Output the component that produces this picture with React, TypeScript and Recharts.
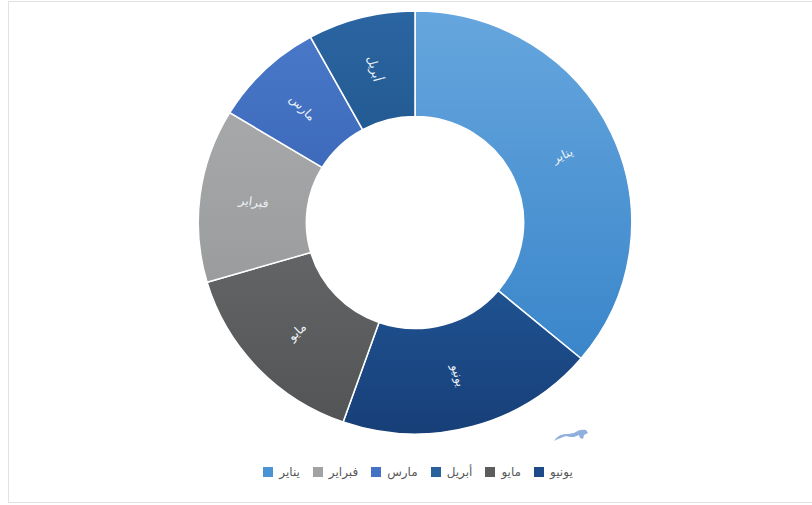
import { PieChart, Pie, Cell, Legend } from "recharts";

// slices in clockwise order, starting at 12 o'clock
const sliceNames = ["يناير", "يونيو", "مايو", "فبراير", "مارس", "أبريل"];
const sliceValues = [36.1, 19.25, 15.05, 13.25, 8.3, 8.0];

// legend order
const legendNames = ["يناير", "فبراير", "مارس", "أبريل", "مايو", "يونيو"];

const GRADS: Record<string, [string, string]> = {
  "يناير": ["#66a6de", "#3a86ca"],
  "يونيو": ["#1f5290", "#173f78"],
  "مايو": ["#626466", "#525456"],
  "فبراير": ["#a6a8a9", "#9a9c9d"],
  "مارس": ["#4a78c8", "#3d6abb"],
  "أبريل": ["#2b65a2", "#235a92"],
};
const SOLID: Record<string, string> = {
  "يناير": "#4a93d4",
  "يونيو": "#1d4a88",
  "مايو": "#5a5c5e",
  "فبراير": "#a0a2a3",
  "مارس": "#4472c4",
  "أبريل": "#27609b",
};

const data = sliceNames.map((name, i) => ({ name, value: sliceValues[i] }));
const RAD = Math.PI / 180;
const FONT = "'DejaVu Sans', 'Noto Sans', sans-serif";

const renderLabel = (p: any) => {
  const r = (p.innerRadius + p.outerRadius) / 2;
  const x = p.cx + r * Math.cos(-p.midAngle * RAD);
  const y = p.cy + r * Math.sin(-p.midAngle * RAD);
  let rot = -p.midAngle;
  while (rot > 90) rot -= 180;
  while (rot < -90) rot += 180;
  return (
    <text
      x={x}
      y={y}
      fill="#eef3f8"
      fontSize={12}
      fontFamily={FONT}
      textAnchor="middle"
      dominantBaseline="central"
      transform={`rotate(${rot} ${x} ${y})`}
    >
      {p.name}
    </text>
  );
};

const renderLegend = () => (
  <div
    style={{
      display: "flex",
      justifyContent: "center",
      gap: 13,
      fontFamily: FONT,
      fontSize: 12,
      color: "#595959",
    }}
  >
    {legendNames.map((n) => (
      <div key={n} style={{ display: "flex", alignItems: "center", gap: 6 }}>
        <span style={{ width: 10, height: 10, background: SOLID[n], display: "inline-block" }} />
        <span>{n}</span>
      </div>
    ))}
  </div>
);

export default function App() {
  return (
    <div style={{ position: "relative", width: 812, height: 505, overflow: "hidden", background: "#fff" }}>
      <style>{"body{margin:0;overflow:hidden} .recharts-surface{transform:scaleX(1.025);transform-origin:415px 0}"}</style>
      <div
        style={{
          position: "absolute",
          left: 8,
          top: 1,
          width: 830,
          height: 502,
          border: "1px solid #e2e2e2",
          boxSizing: "border-box",
        }}
      />
      <PieChart
        width={812}
        height={505}
        margin={{ top: 0, right: 0, bottom: 0, left: 0 }}
        style={{ position: "absolute", left: 0, top: 0 }}
      >
        <defs>
          {sliceNames.map((n, i) => (
            <linearGradient key={n} id={`g${i}`} x1="0" y1="0" x2="0" y2="1">
              <stop offset="0%" stopColor={GRADS[n][0]} />
              <stop offset="100%" stopColor={GRADS[n][1]} />
            </linearGradient>
          ))}
        </defs>
        <Pie
          data={data}
          dataKey="value"
          nameKey="name"
          cx={415}
          cy={222.5}
          innerRadius={106}
          outerRadius={211.5}
          startAngle={90}
          endAngle={-270}
          stroke="#ffffff"
          strokeWidth={1.5}
          label={renderLabel}
          labelLine={false}
          isAnimationActive={false}
        >
          {data.map((d, i) => (
            <Cell key={d.name} fill={`url(#g${i})`} />
          ))}
        </Pie>
        <Legend
          content={renderLegend}
          wrapperStyle={{ position: "absolute", top: 465, left: 3, width: 830 }}
        />
      </PieChart>
      <svg width={40} height={20} style={{ position: "absolute", left: 552, top: 425 }}>
        <path
          d="M2 16 C6 10 10 9 16 9 L22 8 C26 5 30 4 34 5 L36 8 L32 10 L31 14 L28 13 L27 10 L22 12 L18 12 L14 11 C10 12 6 14 2 16 Z"
          fill="#8fb0de"
        />
      </svg>
    </div>
  );
}
